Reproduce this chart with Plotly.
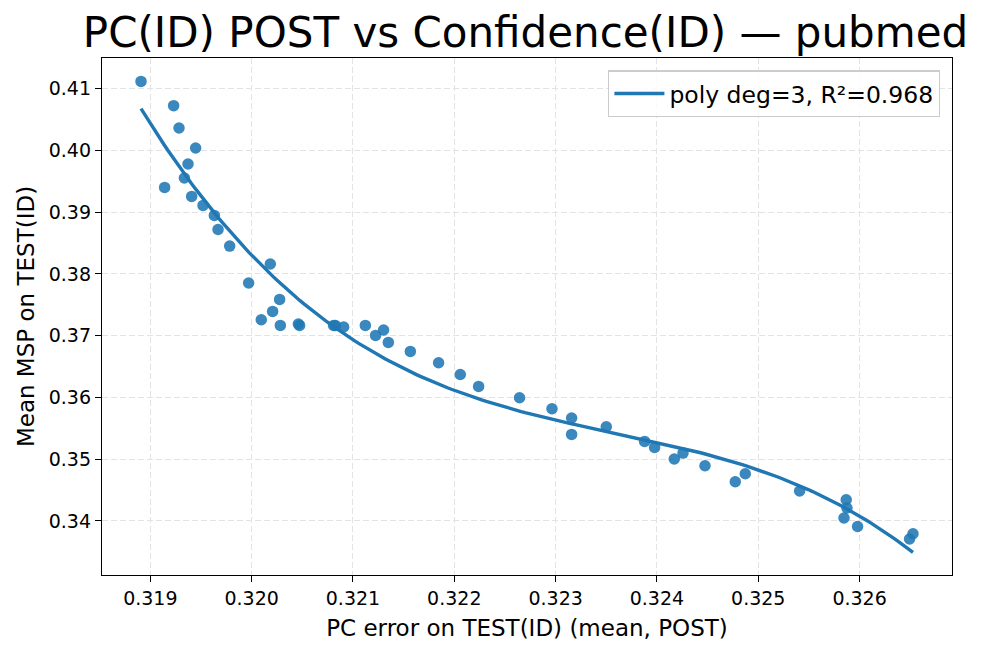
import numpy as np
import plotly.graph_objects as go

# PC error on TEST(ID) (mean, POST)
pc_error = [0.318908, 0.319230, 0.319283, 0.319447, 0.319372, 0.319141, 0.319336, 0.319408,
            0.319520, 0.319632, 0.319668, 0.319783, 0.320184, 0.319970, 0.320276, 0.320207,
            0.320095, 0.320283, 0.320461, 0.320473, 0.320809, 0.320826, 0.320908, 0.321122,
            0.321223, 0.321302, 0.321349, 0.321566, 0.321845, 0.322059, 0.322240, 0.322644,
            0.322964, 0.323158, 0.323158, 0.323500, 0.323878, 0.323977, 0.324171, 0.324257,
            0.324474, 0.324773, 0.324872, 0.325408, 0.325868, 0.325875, 0.325846, 0.325980,
            0.326527, 0.326493]
# Mean MSP on TEST(ID)
mean_msp = [0.41118, 0.40725, 0.40364, 0.40040, 0.39781, 0.39402, 0.39554, 0.39256,
            0.39110, 0.38948, 0.38721, 0.38452, 0.38161, 0.37853, 0.37588, 0.37394,
            0.37259, 0.37167, 0.37190, 0.37167, 0.37167, 0.37167, 0.37141, 0.37167,
            0.37005, 0.37092, 0.36892, 0.36746, 0.36563, 0.36373, 0.36179, 0.35996,
            0.35818, 0.35667, 0.35402, 0.35526, 0.35289, 0.35191, 0.35003, 0.35100,
            0.34895, 0.34636, 0.34765, 0.34485, 0.34344, 0.34210, 0.34048, 0.33911,
            0.33794, 0.33708]

fit_degree = 3
fit_label = "poly deg=3, R²=0.968"
title_text = "PC(ID) POST vs Confidence(ID) — pubmed"
x_title = "PC error on TEST(ID) (mean, POST)"
y_title = "Mean MSP on TEST(ID)"
x_ticks = [0.319, 0.320, 0.321, 0.322, 0.323, 0.324, 0.325, 0.326]
y_ticks = [0.34, 0.35, 0.36, 0.37, 0.38, 0.39, 0.40, 0.41]

xa = np.array(pc_error)
ya = np.array(mean_msp)
coef = np.polyfit(xa, ya, fit_degree)
xf = np.linspace(xa.min(), xa.max(), 200)
yf = np.polyval(coef, xf)

BLUE = "#1f77b4"
FONT = "DejaVu Sans"

fig = go.Figure()
fig.add_trace(go.Scatter(
    x=pc_error, y=mean_msp, mode="markers", showlegend=False,
    marker=dict(size=11.5, color="rgba(31,119,180,0.88)", line=dict(width=0)),
    hoverinfo="x+y"))
fig.add_trace(go.Scatter(
    x=xf, y=yf, mode="lines", name=fit_label,
    line=dict(color=BLUE, width=3.4)))

axis_common = dict(
    showline=True, linecolor="black", linewidth=1.3, mirror=True,
    ticks="outside", ticklen=6, tickwidth=1.3, tickcolor="black",
    showgrid=True, gridcolor="#e3e3e3", gridwidth=1.2, griddash="6px,3px",
    zeroline=False, tickfont=dict(family=FONT, size=19, color="black"),
)

# the page body has an 8px default margin; the figure is sized so it fits the window
fig.update_layout(
    width=988, height=646,
    margin=dict(l=94, r=44, t=50, b=79, autoexpand=False),
    paper_bgcolor="white", plot_bgcolor="white",
    font=dict(family=FONT, color="black"),
    title=dict(text=title_text, x=0.5238, xanchor="center", y=0.963, yanchor="middle",
               yref="container", font=dict(family=FONT, size=42, color="black")),
    xaxis=dict(range=[0.318523, 0.326912], tickvals=x_ticks,
               ticktext=[f"{v:.3f}" for v in x_ticks],
               title=dict(text=x_title, font=dict(family=FONT, size=23), standoff=11),
               **axis_common),
    yaxis=dict(range=[0.331255, 0.414972], tickvals=y_ticks,
               ticktext=[f"{v:.2f}" for v in y_ticks],
               title=dict(text=y_title, font=dict(family=FONT, size=23), standoff=7),
               **axis_common),
    legend=dict(x=0.986, xanchor="right", y=0.976, yanchor="top",
                bgcolor="rgba(255,255,255,0.8)", bordercolor="#cccccc", borderwidth=1.3,
                font=dict(family=FONT, size=23.5, color="black"), itemwidth=50),
)

fig.write_html("out.html")
